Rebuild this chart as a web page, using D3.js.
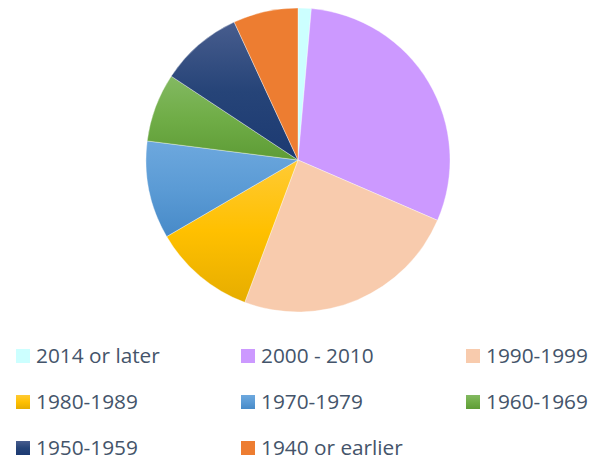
<!DOCTYPE html>
<html>
<head>
<meta charset="utf-8">
<script src="https://cdn.jsdelivr.net/npm/d3@7"></script>
<style>
  body { margin: 0; background: #fff; }
  svg { display: block; }
</style>
</head>
<body>
<div id="chart"></div>
<script>
// Baujahr-Kategorien (im Uhrzeigersinn ab 12 Uhr)
const categories = ["2014 or later", "2000 - 2010", "1990-1999", "1980-1989",
                    "1970-1979", "1960-1969", "1950-1959", "1940 or earlier"];
const shares = [1.4, 30.1, 24.2, 10.9, 10.4, 7.3, 8.8, 6.9];
const colors = ["#ccffff", "#cc99ff", "#f8cbad", "#ffc000",
                "#5b9bd5", "#70ad47", "#264478", "#ed7d31"];
// Verlauf (oben hell, unten dunkel) nur für einige Farben
const gradients = {
    "#ffc000": ["#ffca35", "#ffc000", "#e6ad00"],
    "#5b9bd5": ["#6da8de", "#5b9bd5", "#478ac8"],
    "#70ad47": ["#83b962", "#70ad47", "#5e9c36"],
    "#264478": ["#485d8e", "#264478", "#1c3a72"]
};
// Legende in drei Spalten
const legendOrder = [0, 1, 2, 3, 4, 5, 6, 7];

const width = 600, height = 460;
const cx = 298, cy = 160, radius = 152;

const svg = d3.select("#chart").append("svg")
    .attr("width", width)
    .attr("height", height);

const defs = svg.append("defs");
Object.entries(gradients).forEach(([key, stops]) => {
    const g = defs.append("linearGradient")
        .attr("id", "grad" + key.slice(1))
        .attr("x1", 0).attr("y1", 0).attr("x2", 0).attr("y2", 1);
    g.append("stop").attr("offset", "0%").attr("stop-color", stops[0]);
    g.append("stop").attr("offset", "50%").attr("stop-color", stops[1]);
    g.append("stop").attr("offset", "100%").attr("stop-color", stops[2]);
});
function fillFor(c) {
    return gradients[c] ? "url(#grad" + c.slice(1) + ")" : c;
}

const pie = d3.pie().sort(null).value(d => d);
const arc = d3.arc().innerRadius(0).outerRadius(radius);

svg.append("g")
    .attr("transform", `translate(${cx},${cy})`)
    .selectAll("path")
    .data(pie(shares))
    .join("path")
    .attr("d", arc)
    .attr("fill", (d, i) => fillFor(colors[i]))
    .attr("stroke", "#fff")
    .attr("stroke-width", 0.6)
    .attr("stroke-opacity", 0.6);

// Legende
const colX = [16, 241, 466];
const rowY = [356, 402, 448];
const sw = 14;
const leg = svg.append("g");
legendOrder.forEach((idx, k) => {
    const x = colX[k % 3], y = rowY[Math.floor(k / 3)];
    leg.append("rect")
        .attr("x", x).attr("y", y - sw / 2)
        .attr("width", sw).attr("height", sw)
        .attr("fill", fillFor(colors[idx]));
    leg.append("text")
        .attr("x", x + 20)
        .attr("y", y)
        .attr("dy", "0.36em")
        .attr("font-family", "'Open Sans', sans-serif")
        .attr("font-size", 20.8)
        .attr("fill", "#44546a")
        .text(categories[idx]);
});
</script>
</body>
</html>
